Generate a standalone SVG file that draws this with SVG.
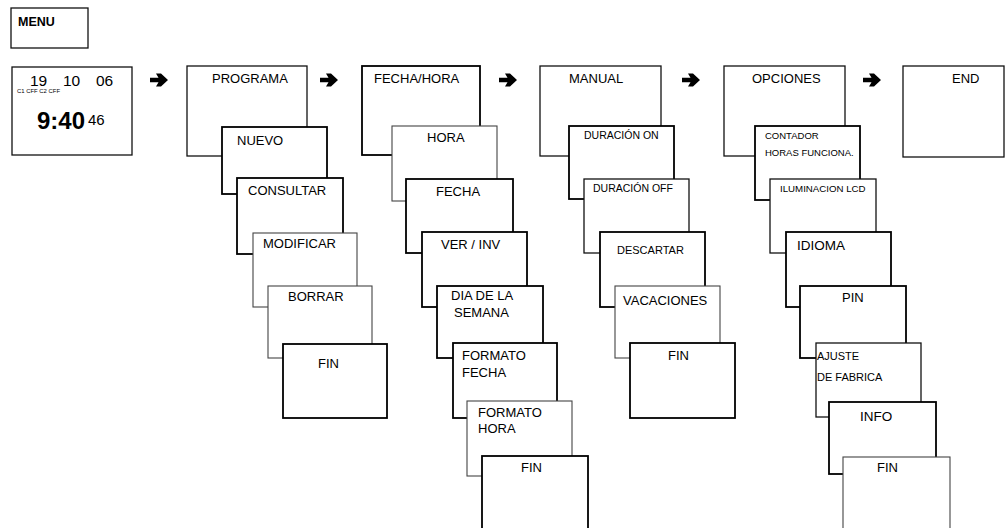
<svg xmlns="http://www.w3.org/2000/svg" width="1005" height="528" viewBox="0 0 1005 528">
<style>
rect{fill:#fff}
.k{stroke:#000;stroke-width:1.8}
.m{stroke:#111;stroke-width:1.3}
.g{stroke:#444;stroke-width:1.1}
text{font-family:"Liberation Sans",Arial,sans-serif;fill:#000}
.t{font-size:13px}
</style>
<defs>
<path id="arr" d="M-9,-2.2 L-0.5,-2.2 L-3,-6.5 L2,-6.5 L9,0 L2,6.5 L-3,6.5 L-0.5,2.2 L-9,2.2 Z" fill="#000"/>
</defs>

<g id="menu">
<rect class="m" x="11" y="8" width="77" height="40"/>
<text x="18" y="26" font-size="12.5" font-weight="bold">MENU</text>
</g>

<g id="clock">
<rect class="m" x="12" y="67" width="120" height="88"/>
<text x="30" y="86" font-size="15.5">19</text>
<text x="63" y="86" font-size="15.5">10</text>
<text x="96" y="86" font-size="15.5">06</text>
<text x="17" y="93" font-size="6" textLength="43" lengthAdjust="spacingAndGlyphs">C1 CFF C2 CFF</text>
<text x="37" y="128.5" font-size="24" font-weight="bold">9:40</text>
<text x="88" y="125" font-size="15">46</text>
</g>

<g id="connectors">
<use href="#arr" x="159" y="80"/>
<use href="#arr" x="329" y="80"/>
<use href="#arr" x="508" y="80"/>
<use href="#arr" x="691" y="80"/>
<use href="#arr" x="872" y="80"/>
</g>

<g id="programa">
<rect class="m" x="187" y="66" width="120" height="90"/>
<text class="t" x="212" y="82.5">PROGRAMA</text>
</g>
<g id="nuevo">
<rect class="k" x="222" y="127" width="105" height="67"/>
<text class="t" x="237" y="145">NUEVO</text>
</g>
<g id="consultar">
<rect class="k" x="237" y="178" width="106" height="76"/>
<text class="t" x="248" y="195">CONSULTAR</text>
</g>
<g id="modificar">
<rect class="g" x="253" y="233" width="104" height="74"/>
<text class="t" x="263" y="248">MODIFICAR</text>
</g>
<g id="borrar">
<rect class="g" x="268" y="286" width="104" height="72"/>
<text class="t" x="288" y="301">BORRAR</text>
</g>
<g id="fin-programa">
<rect class="k" x="283" y="344" width="104" height="74"/>
<text class="t" x="318" y="368">FIN</text>
</g>

<g id="fechahora">
<rect class="k" x="362" y="66" width="118" height="89"/>
<text class="t" x="374" y="82.5">FECHA/HORA</text>
</g>
<g id="hora">
<rect class="g" x="392" y="126" width="105" height="75"/>
<text class="t" x="427" y="141.5">HORA</text>
</g>
<g id="fecha">
<rect class="k" x="406" y="179" width="107" height="74"/>
<text class="t" x="436" y="195.5">FECHA</text>
</g>
<g id="verinv">
<rect class="k" x="422" y="232" width="105" height="75"/>
<text class="t" x="441" y="249">VER / INV</text>
</g>
<g id="diasemana">
<rect class="k" x="437" y="286" width="106" height="72"/>
<text class="t" x="451" y="300">DIA DE LA</text>
<text class="t" x="454" y="316.5">SEMANA</text>
</g>
<g id="formatofecha">
<rect class="k" x="453" y="343" width="104" height="75"/>
<text class="t" x="462" y="360">FORMATO</text>
<text class="t" x="462" y="376.5">FECHA</text>
</g>
<g id="formatohora">
<rect class="g" x="467" y="401" width="105" height="75"/>
<text class="t" x="478" y="417">FORMATO</text>
<text class="t" x="478" y="433">HORA</text>
</g>
<g id="fin-fechahora">
<rect class="k" x="482" y="456" width="106" height="90"/>
<text class="t" x="521" y="471.5">FIN</text>
</g>

<g id="manual">
<rect class="m" x="540" y="66" width="121" height="90"/>
<text class="t" x="569" y="82.5">MANUAL</text>
</g>
<g id="duracionon">
<rect class="k" x="569" y="126" width="105" height="73"/>
<text x="584" y="139" font-size="10.5">DURACIÓN ON</text>
</g>
<g id="duracionoff">
<rect class="m" x="584" y="179" width="105" height="74"/>
<text x="593" y="192" font-size="10.5">DURACIÓN OFF</text>
</g>
<g id="descartar">
<rect class="k" x="600" y="232" width="105" height="75"/>
<text x="617" y="254" font-size="11">DESCARTAR</text>
</g>
<g id="vacaciones">
<rect class="g" x="615" y="286" width="105" height="72"/>
<text class="t" x="623" y="305">VACACIONES</text>
</g>
<g id="fin-manual">
<rect class="k" x="630" y="343" width="105" height="75"/>
<text class="t" x="668" y="360">FIN</text>
</g>

<g id="opciones">
<rect class="m" x="724" y="66" width="121" height="90"/>
<text class="t" x="752" y="82.5">OPCIONES</text>
</g>
<g id="contador">
<rect class="k" x="755" y="126" width="105" height="74"/>
<text x="765" y="139" font-size="9.5">CONTADOR</text>
<text x="765" y="155.5" font-size="9.5">HORAS FUNCIONA.</text>
</g>
<g id="iluminacion">
<rect class="m" x="770" y="179" width="106" height="74"/>
<text x="780" y="192" font-size="9.7">ILUMINACION LCD</text>
</g>
<g id="idioma">
<rect class="k" x="786" y="232" width="105" height="75"/>
<text x="797" y="250" font-size="13.5">IDIOMA</text>
</g>
<g id="pin">
<rect class="k" x="800" y="286" width="106" height="72"/>
<text class="t" x="842" y="301.5">PIN</text>
</g>
<g id="ajuste">
<rect class="m" x="816" y="343" width="105" height="74"/>
<text x="817" y="360" font-size="11">AJUSTE</text>
<text x="817" y="380.5" font-size="11">DE FABRICA</text>
</g>
<g id="info">
<rect class="k" x="829" y="402" width="107" height="72"/>
<text x="860" y="420.5" font-size="13.5">INFO</text>
</g>
<g id="fin-opciones">
<rect class="g" x="843" y="457" width="107" height="90"/>
<text class="t" x="877" y="472">FIN</text>
</g>

<g id="end">
<rect class="m" x="903" y="66" width="101" height="91"/>
<text class="t" x="952" y="82.5">END</text>
</g>
</svg>
